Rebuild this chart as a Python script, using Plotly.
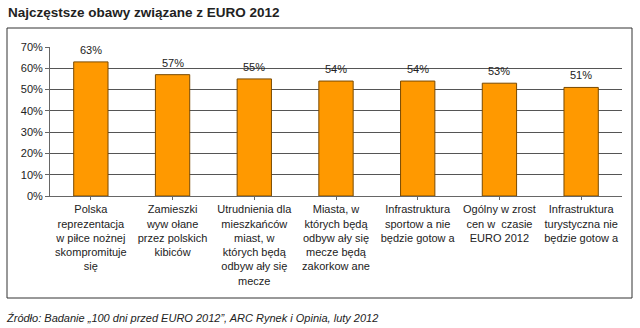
import plotly.graph_objects as go

# Survey results: most common concerns related to EURO 2012
categories = [
    "Polska<br>reprezentacja<br>w piłce nożnej<br>skompromituje<br>się",
    "Zamieszki<br>wyw ołane<br>przez polskich<br>kibiców",
    "Utrudnienia dla<br>mieszkańców<br>miast, w<br>których będą<br>odbyw ały się<br>mecze",
    "Miasta, w<br>których będą<br>odbyw ały się<br>mecze będą<br>zakorkow ane",
    "Infrastruktura<br>sportow a nie<br>będzie gotow a",
    "Ogólny w zrost<br>cen w  czasie<br>EURO 2012",
    "Infrastruktura<br>turystyczna nie<br>będzie gotow a",
]
values = [63, 57, 55, 54, 54, 53, 51]
y_ticks = [0, 10, 20, 30, 40, 50, 60, 70]
y_tick_labels = [f"{v}%" for v in y_ticks]

title_text = "Najczęstsze obawy związane z EURO 2012"
source_text = "Źródło: Badanie „100 dni przed EURO 2012”, ARC Rynek i Opinia, luty 2012"

FONT = "Liberation Sans, Arial, sans-serif"
W, H = 640, 328
ML, MR, MT, MB = 50, 18, 47, 132
PW, PH = W - ML - MR, H - MT - MB


def px_x(x):
    return (x - ML) / PW


def px_y(y):
    return (H - MB - y) / PH


x_idx = list(range(len(categories)))

fig = go.Figure()
fig.add_trace(go.Bar(
    x=x_idx,
    y=values,
    marker=dict(color="#FF9900", line=dict(color="#7a4a00", width=1)),
    width=0.42,
    hoverinfo="skip",
))

# value labels above bars
for i, v in zip(x_idx, values):
    fig.add_annotation(
        x=i, y=v, text=f"{v}%", showarrow=False,
        yanchor="bottom", yshift=4,
        font=dict(family=FONT, size=11, color="#222"),
    )

# outer frame around the chart area
fig.add_shape(
    type="rect", xref="paper", yref="paper",
    x0=px_x(7), x1=px_x(632), y0=px_y(298), y1=px_y(28),
    line=dict(color="#333", width=1), fillcolor="rgba(0,0,0,0)",
    layer="below",
)

fig.add_annotation(
    xref="paper", yref="paper", x=px_x(6), y=px_y(12),
    xanchor="left", yanchor="middle", showarrow=False,
    text=f"<b>{title_text}</b>",
    font=dict(family=FONT, size=13.5, color="#222"),
)
fig.add_annotation(
    xref="paper", yref="paper", x=px_x(4), y=px_y(318),
    xanchor="left", yanchor="middle", showarrow=False,
    text=f"<i>{source_text}</i>",
    font=dict(family=FONT, size=11, color="#222"),
)

fig.update_layout(
    width=W, height=H,
    margin=dict(l=ML, r=MR, t=MT, b=MB, pad=0),
    paper_bgcolor="white", plot_bgcolor="white",
    showlegend=False,
    font=dict(family=FONT, size=11, color="#222"),
)
fig.update_xaxes(
    range=[-0.5, len(categories) - 0.5],
    tickmode="array", tickvals=x_idx, ticktext=categories,
    tickson="boundaries", ticks="outside", ticklen=3, tickcolor="#666",
    showline=True, linecolor="#666", linewidth=1,
    showgrid=False, zeroline=False,
    tickfont=dict(family=FONT, size=11, color="#222"),
    tickangle=0, fixedrange=True,
)
fig.update_yaxes(
    range=[0, 70],
    tickmode="array", tickvals=y_ticks, ticktext=y_tick_labels,
    ticks="outside", ticklen=4, tickcolor="#666",
    showline=True, linecolor="#666", linewidth=1,
    showgrid=True, gridcolor="#555", gridwidth=1,
    zeroline=False,
    tickfont=dict(family=FONT, size=11, color="#222"),
    fixedrange=True,
)

fig.write_html("out.html")
